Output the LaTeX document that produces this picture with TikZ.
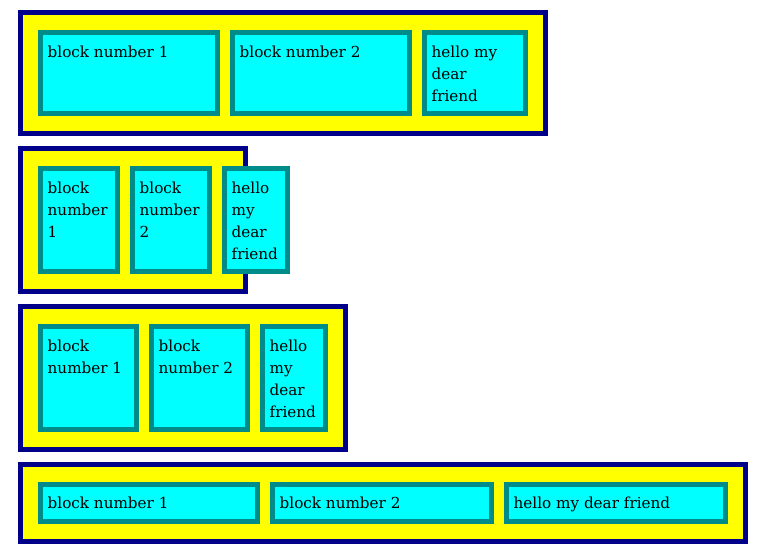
\documentclass[tikz,border=0pt]{standalone}
\usepackage{fontspec}
\setmainfont{DejaVu Serif}
\definecolor{panelborder}{HTML}{00008B}
\definecolor{panelfill}{HTML}{FFFF00}
\definecolor{blockborder}{HTML}{008B8B}
\definecolor{blockfill}{HTML}{00FFFF}
\tikzset{
  panel/.style={rectangle, draw=panelborder, fill=panelfill, line width=5pt, inner sep=0pt},
  blk/.style={rectangle, draw=blockborder, fill=blockfill, line width=5pt, inner sep=0pt},
  lbl/.style={anchor=north west, inner sep=0pt, align=left, text=black,
    font=\fontsize{15.2}{22}\selectfont},
}
\begin{document}
\begin{tikzpicture}[x=1pt,y=-1pt]
\useasboundingbox (0,0) rectangle (766,554);
% ---- panel 1
\node[panel, minimum width=525pt, minimum height=121pt] (p1) at (283,73) {};
\node[blk, minimum width=177pt, minimum height=81pt] (p1a) at (129,73) {};
\node[blk, minimum width=177pt, minimum height=81pt] (p1b) at (321,73) {};
\node[blk, minimum width=101pt, minimum height=81pt] (p1c) at (475,73) {};
\node[lbl] (t1a) at ([shift={(9.5,16)}]p1a.north west) {block number 1};
\node[lbl] (t1b) at ([shift={(9.5,16)}]p1b.north west) {block number 2};
\node[lbl] (t1c) at ([shift={(9.5,16)}]p1c.north west) {hello my\\dear\\friend};
% ---- panel 2
\node[panel, minimum width=225pt, minimum height=143pt] (p2) at (133,220) {};
\node[blk, minimum width=77pt, minimum height=103pt] (p2a) at (79,220) {};
\node[blk, minimum width=77pt, minimum height=103pt] (p2b) at (171,220) {};
\node[blk, minimum width=63pt, minimum height=103pt] (p2c) at (256,220) {};
\node[lbl] (t2a) at ([shift={(9.5,16)}]p2a.north west) {block\\number\\1};
\node[lbl] (t2b) at ([shift={(9.5,16)}]p2b.north west) {block\\number\\2};
\node[lbl] (t2c) at ([shift={(9.5,16)}]p2c.north west) {hello\\my\\dear\\friend};
% ---- panel 3
\node[panel, minimum width=325pt, minimum height=143pt] (p3) at (183,378) {};
\node[blk, minimum width=96pt, minimum height=103pt] (p3a) at (88.5,378) {};
\node[blk, minimum width=96pt, minimum height=103pt] (p3b) at (199.5,378) {};
\node[blk, minimum width=63pt, minimum height=103pt] (p3c) at (294,378) {};
\node[lbl] (t3a) at ([shift={(9.5,16)}]p3a.north west) {block\\number 1};
\node[lbl] (t3b) at ([shift={(9.5,16)}]p3b.north west) {block\\number 2};
\node[lbl] (t3c) at ([shift={(9.5,16)}]p3c.north west) {hello\\my\\dear\\friend};
% ---- panel 4
\node[panel, minimum width=725pt, minimum height=77pt] (p4) at (383,503) {};
\node[blk, minimum width=217pt, minimum height=37pt] (p4a) at (149,503) {};
\node[blk, minimum width=219pt, minimum height=37pt] (p4b) at (382,503) {};
\node[blk, minimum width=219pt, minimum height=37pt] (p4c) at (616,503) {};
\node[lbl] (t4a) at ([shift={(9.5,15)}]p4a.north west) {block number 1};
\node[lbl] (t4b) at ([shift={(9.5,15)}]p4b.north west) {block number 2};
\node[lbl] (t4c) at ([shift={(9.5,15)}]p4c.north west) {hello my dear friend};
\end{tikzpicture}
\end{document}
